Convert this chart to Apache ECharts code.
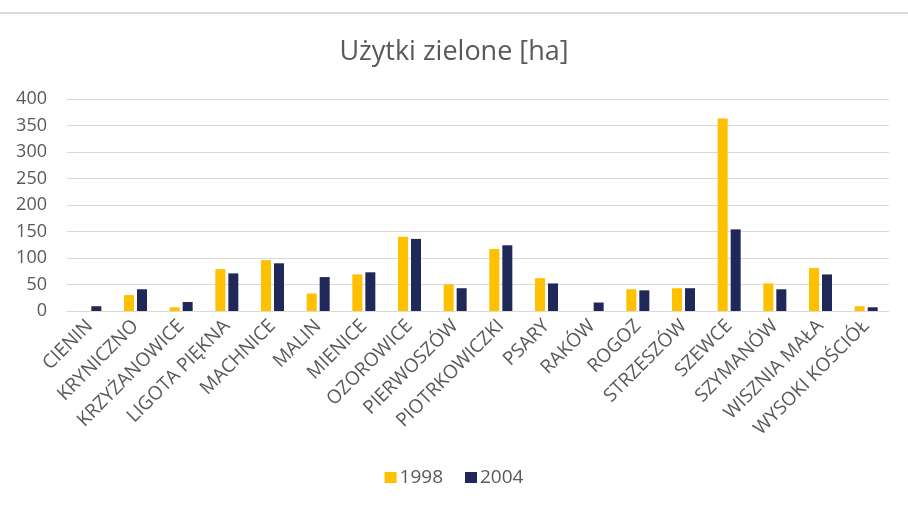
<!DOCTYPE html>
<html>
<head>
<meta charset="utf-8">
<script src="https://cdn.jsdelivr.net/npm/echarts@6/dist/echarts.min.js"></script>
<style>
    html, body { margin: 0; padding: 0; background: #fff; }
    #chart { width: 908px; height: 510px; }
</style>
</head>
<body>
<div id="chart"></div>
<script>
var villages = ['CIENIN', 'KRYNICZNO', 'KRZYŻANOWICE', 'LIGOTA PIĘKNA', 'MACHNICE', 'MALIN', 'MIENICE',
    'OZOROWICE', 'PIERWOSZÓW', 'PIOTRKOWICZKI', 'PSARY', 'RAKÓW', 'ROGOZ', 'STRZESZÓW', 'SZEWCE',
    'SZYMANÓW', 'WISZNIA MAŁA', 'WYSOKI KOŚCIÓŁ'];
var values1998 = [0, 30, 7, 79, 96, 33, 69, 140, 50, 117, 62, 0, 41, 43, 363, 52, 81, 9];
var values2004 = [9, 41, 17, 71, 90, 64, 73, 136, 43, 124, 52, 16, 39, 43, 154, 41, 69, 7];
var yTicks = [0, 50, 100, 150, 200, 250, 300, 350, 400];

var font = '"Open Sans", sans-serif';
var grey = '#595959';

var chart = echarts.init(document.getElementById('chart'));
var option = {
    backgroundColor: '#fff',
    animation: false,
    title: {
        text: 'Użytki zielone [ha]',
        left: 'center',
        top: 34,
        textStyle: { fontFamily: font, fontSize: 27, fontWeight: 'normal', color: grey }
    },
    legend: {
        bottom: 18,
        left: 'center',
        itemWidth: 12,
        itemHeight: 11,
        itemGap: 22,
        icon: 'rect',
        textStyle: { fontFamily: font, fontSize: 19, color: grey, padding: [0, 0, 0, -2] },
        data: ['1998', '2004']
    },
    grid: { left: 67, right: 19, top: 99, bottom: 199 },
    xAxis: {
        type: 'category',
        data: villages,
        axisLine: { lineStyle: { color: '#d9d9d9', width: 1 } },
        axisTick: { show: false },
        axisLabel: {
            rotate: 45,
            interval: 0,
            margin: 12,
            fontFamily: font,
            fontSize: 19,
            color: grey
        }
    },
    yAxis: {
        type: 'value',
        min: yTicks[0],
        max: yTicks[yTicks.length - 1],
        interval: 50,
        axisLine: { show: false },
        axisTick: { show: false },
        splitLine: { lineStyle: { color: '#d9d9d9', width: 1 } },
        axisLabel: { fontFamily: font, fontSize: 18, color: grey, margin: 20 }
    },
    graphic: [{
        type: 'line',
        shape: { x1: 0, y1: 13, x2: 908, y2: 13 },
        style: { stroke: '#dcdcdc', lineWidth: 2 }
    }],
    series: [
        {
            name: '1998',
            type: 'bar',
            data: values1998,
            barWidth: 10,
            barGap: '30%',
            itemStyle: { color: '#FFC000' }
        },
        {
            name: '2004',
            type: 'bar',
            data: values2004,
            barWidth: 10,
            itemStyle: { color: '#20285A' }
        }
    ]
};
chart.setOption(option);
</script>
</body>
</html>
